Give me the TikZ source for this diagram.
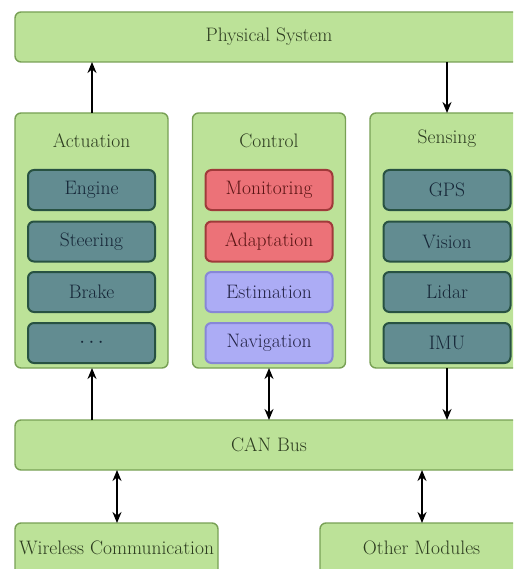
\documentclass[tikz,border=0pt]{standalone}
\usetikzlibrary{arrows.meta}
\definecolor{contfill}{RGB}{188,226,152}
\definecolor{contdraw}{RGB}{120,160,85}
\definecolor{conttext}{RGB}{45,60,32}
\definecolor{tealfill}{RGB}{98,140,145}
\definecolor{tealdraw}{RGB}{40,82,66}
\definecolor{tealtext}{RGB}{22,38,55}
\definecolor{redfill}{RGB}{236,114,120}
\definecolor{reddraw}{RGB}{160,58,58}
\definecolor{redtext}{RGB}{90,20,20}
\definecolor{lavfill}{RGB}{172,172,245}
\definecolor{lavdraw}{RGB}{135,135,215}
\definecolor{lavtext}{RGB}{35,35,70}
\begin{document}
\begin{tikzpicture}[x=1pt,y=-1pt,
  font=\fontsize{19.5}{23}\selectfont,
  cont/.style={draw=contdraw,fill=contfill,line width=1.4pt,rounded corners=6pt,text=conttext,inner sep=0pt},
  sub/.style={line width=2pt,rounded corners=6pt,minimum width=127pt,minimum height=40pt,inner sep=0pt},
  teal/.style={sub,draw=tealdraw,fill=tealfill,text=tealtext},
  redb/.style={sub,draw=reddraw,fill=redfill,text=redtext},
  lav/.style={sub,draw=lavdraw,fill=lavfill,text=lavtext},
  arr/.style={line width=2.8pt,-{Stealth[length=11pt,width=9pt]}},
  darr/.style={line width=2.8pt,{Stealth[length=11pt,width=9pt]}-{Stealth[length=11pt,width=9pt]}}
]
\useasboundingbox (0,0) rectangle (513,569);
\clip (0,0) rectangle (513,569);
% top and bus
\node[cont,minimum width=508pt,minimum height=50pt] (phys) at (269,37) {Physical System};
\node[cont,minimum width=508pt,minimum height=50pt] (can) at (269,445) {CAN Bus};
% containers
\node[cont,minimum width=153pt,minimum height=255pt] (act) at (91.5,240.5) {};
\node[cont,minimum width=153pt,minimum height=255pt] (ctl) at (269,240.5) {};
\node[cont,minimum width=153pt,minimum height=255pt] (sen) at (446.5,240.5) {};
\node[text=conttext] (actl) at (91.5,141) {Actuation};
\node[text=conttext] (ctll) at (269,141) {Control};
\node[text=conttext] (senl) at (447,139) {Sensing};
% actuation items
\node[teal] (eng) at (91.5,190) {Engine};
\node[teal] (ste) at (91.5,241.5) {Steering};
\node[teal] (brk) at (91.5,292) {Brake};
\node[teal] (dots) at (91.5,343) {$\cdots$};
% control items
\node[redb] (mon) at (269,190) {Monitoring};
\node[redb] (ada) at (269,241.5) {Adaptation};
\node[lav] (est) at (269,292) {Estimation};
\node[lav] (nav) at (269,343) {Navigation};
% sensing items
\node[teal] (gps) at (447,190) {GPS};
\node[teal] (vis) at (447,241.5) {Vision};
\node[teal] (lid) at (447,292) {Lidar};
\node[teal] (imu) at (447,343) {IMU};
% bottom modules
\node[cont,minimum width=203pt,minimum height=55pt] (wir) at (116.5,550.5) {};
\node[text=conttext] (wirl) at (116.5,548) {Wireless Communication};
\node[cont,minimum width=203pt,minimum height=55pt] (oth) at (421.5,550.5) {};
\node[text=conttext] (othl) at (421.5,548) {Other Modules};
% coordinates for arrows
\coordinate (a1) at (92,113);
\coordinate (a2) at (92,62);
\coordinate (s1) at (447,62);
\coordinate (s2) at (447,113);
\coordinate (a3) at (92,420);
\coordinate (a4) at (92,368);
\coordinate (c1) at (269,368);
\coordinate (c2) at (269,420);
\coordinate (s3) at (447,368);
\coordinate (s4) at (447,420);
\coordinate (w1) at (117,470);
\coordinate (w2) at (117,523);
\coordinate (o1) at (422,470);
\coordinate (o2) at (422,523);
\draw[arr] (a1) -- (a2);
\draw[arr] (s1) -- (s2);
\draw[arr] (a3) -- (a4);
\draw[darr] (c1) -- (c2);
\draw[arr] (s3) -- (s4);
\draw[darr] (w1) -- (w2);
\draw[darr] (o1) -- (o2);
\end{tikzpicture}
\end{document}
